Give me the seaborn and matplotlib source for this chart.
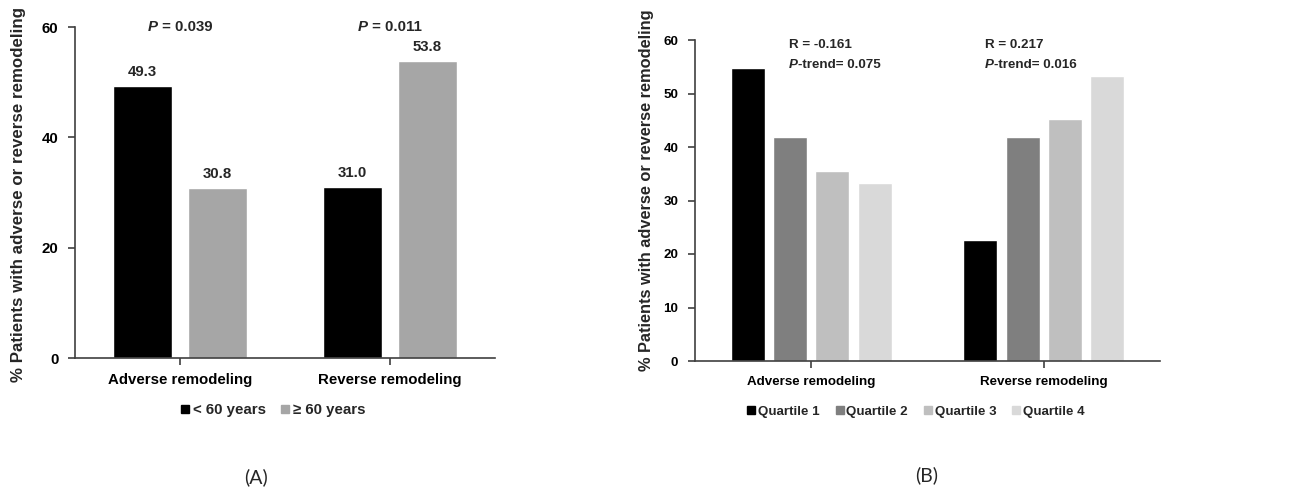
import matplotlib
matplotlib.use('Agg')
import matplotlib.pyplot as plt
import seaborn as sns
import pandas as pd
from matplotlib.lines import Line2D

sns.set_style('ticks')
plt.rcParams['font.family'] = ['Liberation Sans', 'DejaVu Sans']
plt.rcParams['font.weight'] = 'bold'

# data
categories = ['Adverse remodeling', 'Reverse remodeling']

age_groups = ['< 60 years', '≥ 60 years']
age_under60 = [49.3, 31.0]
age_over60 = [30.8, 53.8]
age_colors = ['#000000', '#a6a6a6']
age_pvalues = ['0.039', '0.011']

quartiles = ['Quartile 1', 'Quartile 2', 'Quartile 3', 'Quartile 4']
q_adverse = [54.8, 41.9, 35.5, 33.3]
q_reverse = [22.6, 41.9, 45.2, 53.3]
q_colors = ['#000000', '#7f7f7f', '#bfbfbf', '#d9d9d9']
q_r = ['-0.161', '0.217']
q_ptrend = ['0.075', '0.016']

ylab = '% Patients with adverse or reverse remodeling'
axcol = '#404040'
fsA = 10.8   # text size panel A
fsB = 9.6    # text size panel B

# long tables for seaborn
dfA = pd.DataFrame({'cat': categories * 2,
                    'grp': [age_groups[0]] * 2 + [age_groups[1]] * 2,
                    'val': age_under60 + age_over60})
rows = []
for ci, c in enumerate(categories):
    vals = q_adverse if ci == 0 else q_reverse
    for q, v in zip(quartiles, vals):
        rows.append({'cat': c, 'grp': q, 'val': v})
dfB = pd.DataFrame(rows)

fig = plt.figure(figsize=(13.13, 4.9), dpi=100)
axA = fig.add_axes([75/1313, 1-358/490, 420/1313, 331/490])
axB = fig.add_axes([695/1313, 1-361/490, 465/1313, 321/490])

sns.barplot(data=dfA, x='cat', y='val', hue='grp', hue_order=age_groups,
            palette=dict(zip(age_groups, age_colors)), saturation=1,
            width=0.714, gap=0.21, legend=False, ax=axA)
sns.barplot(data=dfB, x='cat', y='val', hue='grp', hue_order=quartiles,
            palette=dict(zip(quartiles, q_colors)), saturation=1,
            width=0.727, gap=0.195, legend=False, ax=axB)

for ax, fs in [(axA, fsA), (axB, fsB)]:
    ax.set_ylim(0, 60)
    ax.set_xlim(-0.5, 1.5)
    ax.set_xlabel('')
    ax.set_ylabel('')
    sns.despine(ax=ax)
    for s in ['left', 'bottom']:
        ax.spines[s].set_color(axcol)
        ax.spines[s].set_linewidth(1.2)
    ax.tick_params(axis='both', colors=axcol, width=1.2, length=5, labelcolor='black', labelsize=fs)
    ax.tick_params(axis='y', pad=7)
    ax.tick_params(axis='x', pad=6)
    for lab in ax.get_xticklabels() + ax.get_yticklabels():
        lab.set_fontweight('bold')

axA.set_yticks([0, 20, 40, 60])
axB.set_yticks(range(0, 61, 10))

for c in axA.containers:
    axA.bar_label(c, fmt='%.1f', padding=5, fontsize=fsA, fontweight='bold')

# P values above panel A
for i, p in enumerate(age_pvalues):
    t1 = axA.annotate('P', xy=(i, 60), xytext=(-22, 0), textcoords='offset pixels',
                      ha='right', va='center', style='italic', fontsize=fsA,
                      fontweight='bold', annotation_clip=False)
    axA.annotate(' = ' + p, xy=(1, 0), xycoords=t1, ha='left', va='bottom',
                 fontsize=fsA, fontweight='bold', annotation_clip=False)

# R and P-trend in panel B
bx = [-0.095, 0.746]
for i in range(2):
    axB.text(bx[i], 59.1, 'R = ' + q_r[i], ha='left', va='center', fontsize=fsB, fontweight='bold')
    t1 = axB.text(bx[i], 55.3, 'P', ha='left', va='center', style='italic', fontsize=fsB, fontweight='bold')
    axB.annotate('-trend= ' + q_ptrend[i], xy=(1, 0), xycoords=t1, ha='left', va='bottom',
                 fontsize=fsB, fontweight='bold')

# y labels
fig.text(19/1313, 1-382/490, ylab, rotation=90, ha='center', va='bottom',
         fontsize=12.2, fontweight='bold')
fig.text(647/1313, 1-371/490, ylab, rotation=90, ha='center', va='bottom',
         fontsize=11.8, fontweight='bold')

# legends
hA = [Line2D([], [], marker='s', color=c, ls='', markersize=6) for c in age_colors]
fig.legend(hA, age_groups, loc='center', bbox_to_anchor=(273/1313, 1-410/490), ncol=2,
           frameon=False, handlelength=0.6, handletextpad=0.2, columnspacing=1.0,
           prop={'size': fsA, 'weight': 'bold'})
hB = [Line2D([], [], marker='s', color=c, ls='', markersize=6) for c in q_colors]
fig.legend(hB, quartiles, loc='center', bbox_to_anchor=(916/1313, 1-412/490), ncol=4,
           frameon=False, handlelength=0.6, handletextpad=0.2, columnspacing=1.2,
           prop={'size': fsB, 'weight': 'bold'})

# panel letters
fig.text(256/1313, 1-477/490, '(A)', ha='center', va='center', fontsize=14,
         fontweight='normal', family=['Lato', 'DejaVu Sans'])
fig.text(927/1313, 1-475/490, '(B)', ha='center', va='center', fontsize=14,
         fontweight='normal', family=['Lato', 'DejaVu Sans'])

fig.savefig('out.png', dpi=100)
